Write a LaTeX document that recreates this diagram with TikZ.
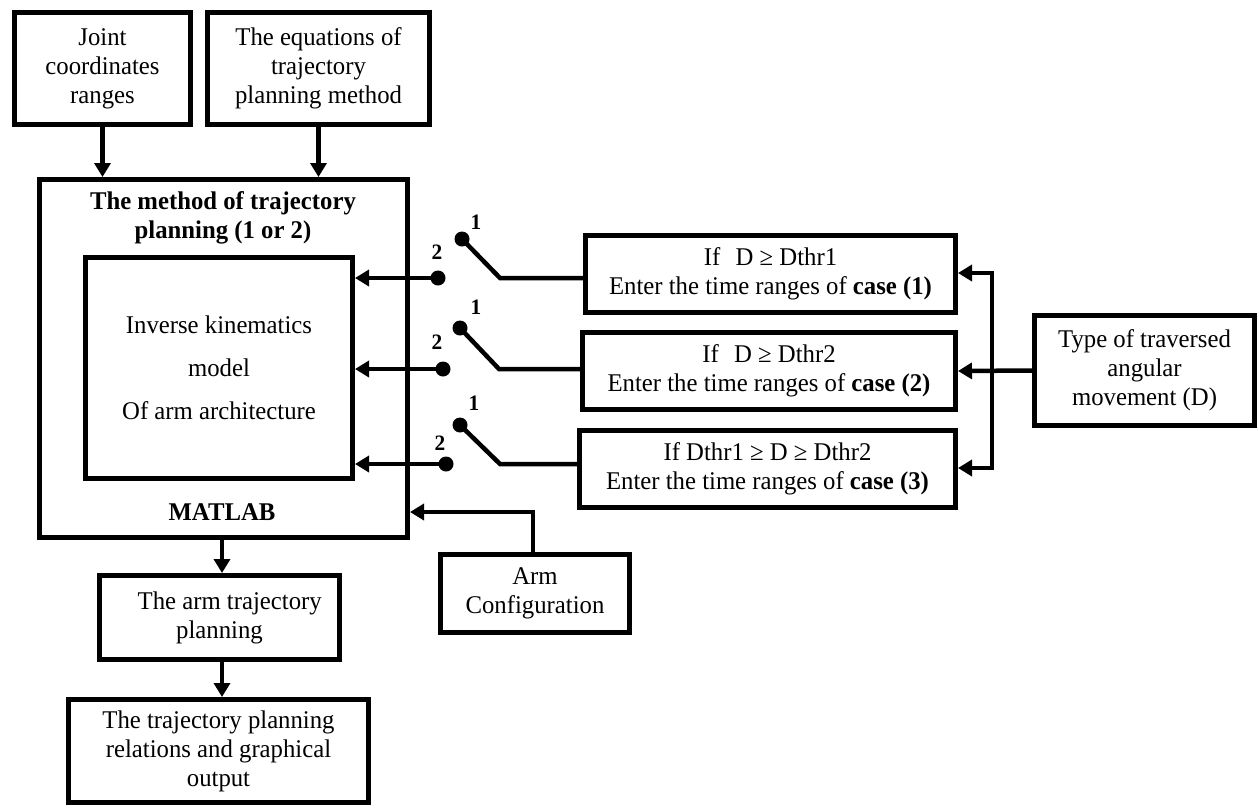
\documentclass[tikz,border=0pt]{standalone}
\usepackage{fontspec}
\setmainfont[FakeStretch=0.97]{Liberation Serif}
\usetikzlibrary{arrows.meta}
\begin{document}
\begin{tikzpicture}[x=1pt,y=-1pt,
  box/.style={draw, line width=5pt, inner sep=0pt, align=center, font=\fontsize{25.5}{29}\selectfont},
  txt/.style={inner sep=0pt, align=center, font=\fontsize{25.5}{29}\selectfont},
  btxt/.style={inner sep=0pt, align=center, font=\fontsize{25.5}{29}\selectfont\bfseries},
  conn/.style={line width=4.5pt},
  arr/.style={conn, -{Triangle[length=14pt,width=16pt]}},
  dotc/.style={circle, fill, inner sep=0pt, minimum size=15pt},
  lbl/.style={inner sep=0pt, font=\fontsize{22}{24}\selectfont\bfseries}]
\useasboundingbox (0,0) rectangle (1259,807);

% boxes
\node[box, minimum width=176pt, minimum height=112pt] (joint) at (102.5,68.5) {Joint\\coordinates\\ranges};
\node[box, minimum width=222pt, minimum height=112pt] (eqs) at (318.5,68.5) {The equations of\\trajectory\\planning method};
\node[box, minimum width=368pt, minimum height=358pt] (main) at (223.5,358.5) {};
\node[btxt] (title) at (223,217.5) {The method of trajectory\\planning (1 or 2)};
\node[btxt] (matlab) at (222,512) {MATLAB};
\node[box, minimum width=267pt, minimum height=221pt, font=\fontsize{25.5}{43}\selectfont] (inner) at (219,368) {Inverse kinematics\\model\\Of arm architecture};

\node[box, minimum width=370pt, minimum height=77pt] (case1) at (770.5,274) {If\hspace{0.6em}D ≥ Dthr1\\Enter the time ranges of \textbf{case (1)}};
\node[box, minimum width=373pt, minimum height=77pt] (case2) at (769,371) {If\hspace{0.6em}D ≥ Dthr2\\Enter the time ranges of \textbf{case (2)}};
\node[box, minimum width=376pt, minimum height=77pt] (case3) at (767.5,469) {If Dthr1 ≥ D ≥ Dthr2\\Enter the time ranges of \textbf{case (3)}};
\node[box, minimum width=220pt, minimum height=110pt] (dbox) at (1144.5,370.5) {Type of traversed\\angular\\movement (D)};

\node[box, minimum width=240pt, minimum height=84pt] (armtraj) at (219.5,617.5) {\hspace{0.8em}The arm trajectory\\planning};
\node[box, minimum width=300pt, minimum height=103pt] (final) at (218.5,751) {The trajectory planning\\relations and graphical\\output};
\node[box, minimum width=189pt, minimum height=78pt] (armconf) at (535,593.5) {Arm\\Configuration};

% top arrows
\draw[arr] (joint.south) -- (joint.south |- main.north);
\draw[arr] (eqs.south) -- (eqs.south |- main.north);

% bottom arrows
\draw[arr] ([xshift=2.5pt]armtraj.north |- main.south) -- ([xshift=2.5pt]armtraj.north);
\draw[arr] ([xshift=2.5pt]armtraj.south) -- ([xshift=2.5pt]armtraj.south |- final.north);

% arm configuration
\coordinate (ac) at (533,512);
\draw[arr] (ac |- armconf.north) -- (ac) -- (ac -| main.east);

% switches
\node[dotc] (s1a) at (462,239) {};
\node[dotc] (s1b) at (438,278) {};
\coordinate (s1p) at (500,278);
\node[dotc] (s2a) at (460,328) {};
\node[dotc] (s2b) at (443,369) {};
\coordinate (s2p) at (499,369);
\node[dotc] (s3a) at (460,425) {};
\node[dotc] (s3b) at (446,464) {};
\coordinate (s3p) at (500,464);

\draw[conn] (s1a.center) -- (s1p) -- (s1p -| case1.west);
\draw[conn] (s2a.center) -- (s2p) -- (s2p -| case2.west);
\draw[conn] (s3a.center) -- (s3p) -- (s3p -| case3.west);

\draw[arr] (s1b.center) -- (s1b.center -| inner.east);
\draw[arr] (s2b.center) -- (s2b.center -| inner.east);
\draw[arr] (s3b.center) -- (s3b.center -| inner.east);

\node[lbl] (l1a) at (476,222) {1};
\node[lbl] (l1b) at (437,252) {2};
\node[lbl] (l2a) at (476,307) {1};
\node[lbl] (l2b) at (437,342) {2};
\node[lbl] (l3a) at (474,403) {1};
\node[lbl] (l3b) at (440,443) {2};

% right side distribution
\coordinate (vt) at (992,273);
\coordinate (vb) at (992,468);
\draw[conn, {Triangle[length=14pt,width=16pt]}-{Triangle[length=14pt,width=16pt]}] (vt -| case1.east) -- (vt) -- (vb) -- (vb -| case3.east);
\draw[arr] (dbox.west) -- (case2.east);
\end{tikzpicture}
\end{document}
